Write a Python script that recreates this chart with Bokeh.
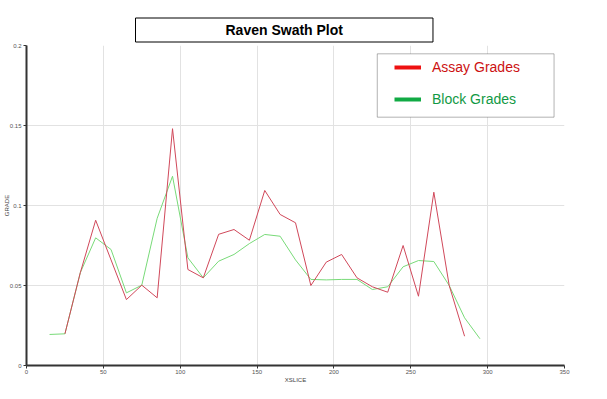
from bokeh.plotting import figure
from bokeh.models import (Legend, LegendItem, BoxAnnotation, Title,
                          FixedTicker, NumeralTickFormatter, Range1d)
from bokeh.embed import file_html
from bokeh.resources import INLINE

# ---- data ----
assay_x = [25, 35, 45, 55, 65, 75, 85, 95, 105, 115, 125, 135, 145, 155, 165,
           175, 185, 195, 205, 215, 225, 235, 245, 255, 265, 275, 285]
assay_grade = [0.0198, 0.058, 0.0908, 0.066, 0.0412, 0.0502, 0.0423, 0.148, 0.060,
               0.0548, 0.082, 0.085, 0.0783, 0.1094, 0.0944, 0.0892, 0.050, 0.0646,
               0.0694, 0.0548, 0.0492, 0.0458, 0.075, 0.0433, 0.1083, 0.050, 0.0183]

block_x = [15, 25, 35, 45, 55, 65, 75, 85, 95, 105, 115, 125, 135, 145, 155,
           165, 175, 185, 195, 205, 215, 225, 235, 245, 255, 265, 275, 285, 295]
block_grade = [0.0194, 0.0198, 0.058, 0.0798, 0.0725, 0.0454, 0.0502, 0.092, 0.1183,
               0.0673, 0.0548, 0.0652, 0.0694, 0.0762, 0.0819, 0.0808, 0.066, 0.0538,
               0.0535, 0.0538, 0.0538, 0.0475, 0.0492, 0.0617, 0.0656, 0.065, 0.050,
               0.0298, 0.0167]

x_ticks = [0, 50, 100, 150, 200, 250, 300, 350]
y_ticks = [0, 0.05, 0.1, 0.15, 0.2]

title_text = "Raven Swath Plot"
x_label = "XSLICE"
y_label = "GRADE"
assay_label = "Assay Grades"
block_label = "Block Grades"

FONT = "Liberation Sans"
NAN = float("nan")

p = figure(frame_width=538, frame_height=320,
           x_range=Range1d(0, 350), y_range=Range1d(0, 0.2),
           output_backend="svg", toolbar_location=None,
           min_border_left=0, min_border_right=33, min_border_top=45,
           min_border_bottom=0)
p.outline_line_color = None
p.background_fill_color = "white"
p.border_fill_color = "white"

# title box
p.title = Title(text=title_text, align="left", offset=109, standoff=7,
                text_font=FONT, text_font_size="14px", text_font_style="bold",
                text_color="black", padding=(90, 4),
                border_line_color="black", border_line_width=1,
                background_fill_color="white")

# grids
p.xgrid.ticker = FixedTicker(ticks=x_ticks)
p.ygrid.ticker = FixedTicker(ticks=y_ticks)
for g in (p.xgrid, p.ygrid):
    g.grid_line_color = "#e2e2e2"
    g.grid_line_width = 1

# axes
p.xaxis.ticker = FixedTicker(ticks=x_ticks)
p.yaxis.ticker = FixedTicker(ticks=y_ticks)
p.yaxis.formatter = NumeralTickFormatter(format="0.[00]")
for ax in (p.xaxis, p.yaxis):
    ax.axis_line_color = "#333333"
    ax.axis_line_width = 2
    ax.major_tick_line_color = "#333333"
    ax.major_tick_out = 3
    ax.major_tick_in = 0
    ax.minor_tick_line_color = None
    ax.major_label_text_font = FONT
    ax.major_label_text_font_size = "6px"
    ax.major_label_text_color = "#555555"
    ax.axis_label_text_font = FONT
    ax.axis_label_text_font_size = "6px"
    ax.axis_label_text_font_style = "normal"
    ax.axis_label_text_color = "#444444"
p.xaxis.axis_label = x_label
p.yaxis.axis_label = y_label
p.xaxis.major_label_standoff = 1
p.xaxis.axis_label_standoff = 0
p.yaxis.major_label_standoff = 2
p.yaxis.axis_label_standoff = -3

# data lines
p.line(block_x, block_grade, line_color="#78da78", line_width=1)
p.line(assay_x, assay_grade, line_color="#d0485a", line_width=1)

# legend box
box = BoxAnnotation(left=228.2, right=343.2, top=0.1948, bottom=0.1552,
                    fill_color="white", fill_alpha=1.0,
                    line_color="black", line_width=1)
p.add_layout(box)

# legend-only swatches (no visible data)
r_assay = p.line([NAN], [NAN], line_color="#ee1111", line_width=4)
r_block = p.line([NAN], [NAN], line_color="#11aa44", line_width=4)

leg1 = Legend(items=[LegendItem(label=assay_label, renderers=[r_assay])],
              location=(368, 288), label_text_color="#cc1111")
leg2 = Legend(items=[LegendItem(label=block_label, renderers=[r_block])],
              location=(368, 256), label_text_color="#119944")
for lg in (leg1, leg2):
    lg.padding = 0
    lg.margin = 0
    lg.border_line_color = None
    lg.background_fill_alpha = 0
    lg.glyph_width = 27
    lg.glyph_height = 20
    lg.label_height = 20
    lg.label_standoff = 11
    lg.label_text_font = FONT
    lg.label_text_font_size = "14px"
    lg.label_text_baseline = "middle"
    p.add_layout(lg)

open("out.html", "w").write(file_html(p, INLINE))
